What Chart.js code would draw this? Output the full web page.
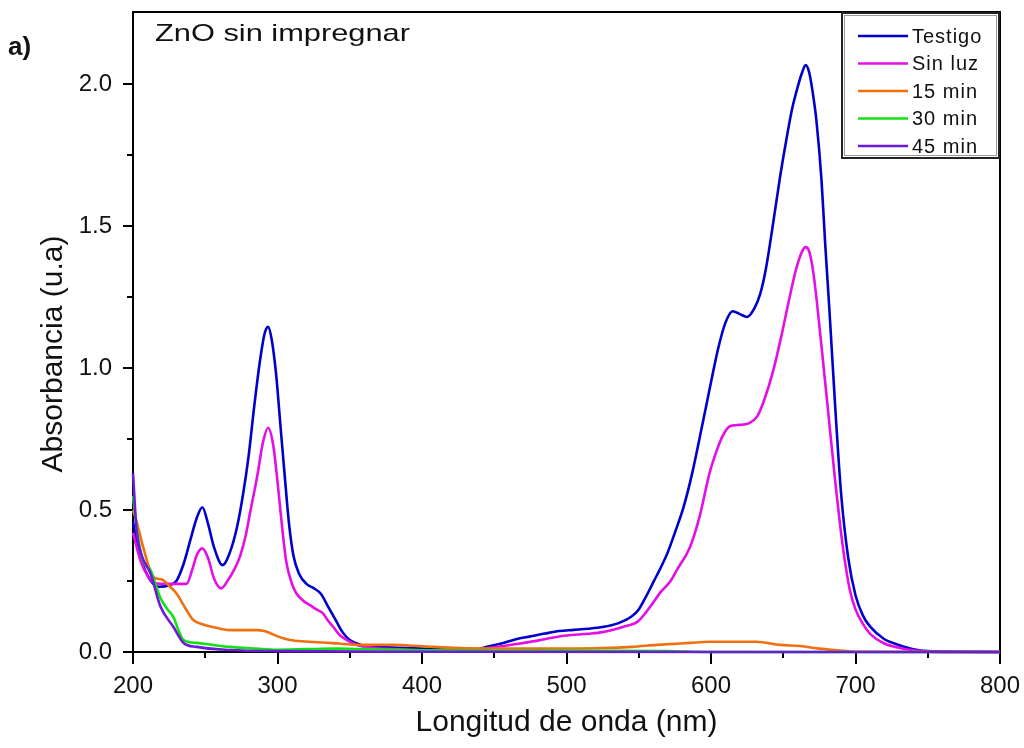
<!DOCTYPE html>
<html>
<head>
<meta charset="utf-8">
<script src="https://cdn.jsdelivr.net/npm/chart.js@4.4.1/dist/chart.umd.min.js"></script>
<style>
  html, body { margin: 0; padding: 0; background: #fff; }
  #wrap { width: 1024px; height: 748px; }
</style>
</head>
<body>
<div id="wrap"><canvas id="spectra" width="1024" height="748"></canvas></div>
<script>
// Spectra (wavelength in nm, absorbance in u.a)
const seriesNames = ["Testigo", "Sin luz", "15 min", "30 min", "45 min"];
const seriesColors = ["#0000cd", "#e60ee6", "#f07010", "#14e014", "#6a1ad8"];

const testigoNm = [200,203,206,210,214,218,225,230,235,240,244,248,252,256,262,267,272,276,280,284,288,291,293.5,296,299,302,305,308,311,315,320,325,330,335,340,345,350,355,360,370,385,400,420,435,445,455,465,475,485,495,505,515,525,535,545,550,555,560,565,570,575,581,587,594,600,605,610,615,620,625,630,634,638,643,648,652,656,660,663,665.5,668,671,673,676.5,679,682,686,690,695,700,705,710,720,730,740,750,770,800];
const testigoAbs = [0.46,0.38,0.32,0.27,0.24,0.23,0.235,0.25,0.31,0.40,0.47,0.51,0.45,0.37,0.306,0.35,0.44,0.55,0.69,0.87,1.03,1.12,1.145,1.10,0.98,0.80,0.62,0.45,0.34,0.275,0.24,0.225,0.205,0.16,0.115,0.07,0.042,0.03,0.022,0.018,0.015,0.012,0.008,0.008,0.018,0.03,0.045,0.055,0.065,0.074,0.078,0.082,0.088,0.10,0.125,0.15,0.195,0.245,0.295,0.35,0.42,0.51,0.63,0.80,0.95,1.07,1.16,1.20,1.19,1.18,1.21,1.26,1.35,1.51,1.68,1.80,1.91,1.99,2.04,2.067,2.04,1.95,1.87,1.66,1.44,1.2,0.86,0.56,0.33,0.2,0.13,0.09,0.045,0.025,0.01,0.003,0.001,0];

const sinLuzNm = [200,203,206,210,214,220,230,237,241,244,248,252,256,261,266,270,274,278,281,286,290,293.5,297,300,303,306,310,313,318,322.5,327,331.5,335,338.5,343,348,355,365,380,400,425,440,455,468,480,490,500,515,525,540,549,558,565,572,576.5,585.5,592,599,604,608,613,620,626,632,637,643,649,654,659,663,665.5,668,671,676,681,686,691,696,700,705,710,720,730,740,750,770,800];
const sinLuzAbs = [0.42,0.36,0.31,0.27,0.245,0.24,0.24,0.24,0.29,0.34,0.365,0.33,0.26,0.224,0.255,0.29,0.336,0.41,0.49,0.62,0.74,0.79,0.73,0.6,0.45,0.32,0.24,0.207,0.18,0.165,0.15,0.136,0.11,0.089,0.06,0.042,0.025,0.015,0.01,0.006,0.005,0.01,0.02,0.03,0.04,0.05,0.058,0.064,0.07,0.09,0.106,0.16,0.21,0.25,0.29,0.37,0.475,0.63,0.71,0.76,0.795,0.8,0.805,0.83,0.89,0.99,1.12,1.24,1.35,1.41,1.426,1.41,1.33,1.1,0.85,0.6,0.38,0.22,0.15,0.1,0.065,0.03,0.015,0.006,0.002,0,0];

const min15Nm = [200,203,207,214,220,225.6,230,237,241.6,248,255.5,267,285.6,290,294.8,300,308.7,320,336,359,380,400,426,480,525,545,562.6,585.5,599,631.5,647.8,661.6,675,690,700,800];
const min15Abs = [0.5,0.45,0.37,0.265,0.255,0.23,0.207,0.148,0.113,0.098,0.088,0.077,0.077,0.075,0.067,0.055,0.042,0.037,0.032,0.025,0.025,0.02,0.014,0.012,0.014,0.018,0.025,0.032,0.036,0.036,0.025,0.021,0.012,0.005,0.001,0];

const min30Nm = [200,203,207,212,219,224,228,232,235,244,255,267,285,300,320,340,360,400,450,500,570,600,800];
const min30Abs = [0.55,0.42,0.32,0.29,0.19,0.15,0.123,0.07,0.042,0.032,0.025,0.018,0.012,0.008,0.01,0.012,0.01,0.006,0.004,0.005,0.003,0,0];

const min45Nm = [200,202.5,206,212,219,228,235,244,267,300,400,800];
const min45Abs = [0.63,0.43,0.34,0.278,0.16,0.088,0.032,0.018,0.007,0.003,0.001,0];

const xTicks = [200, 300, 400, 500, 600, 700, 800];
const yTicks = [0.0, 0.5, 1.0, 1.5, 2.0];

const nmLists = [testigoNm, sinLuzNm, min15Nm, min30Nm, min45Nm];
const absLists = [testigoAbs, sinLuzAbs, min15Abs, min30Abs, min45Abs];

const datasets = seriesNames.map((name, i) => ({
  label: name,
  data: nmLists[i].map((nm, k) => ({ x: nm, y: absLists[i][k] })),
  borderColor: seriesColors[i],
  backgroundColor: seriesColors[i],
  borderWidth: 2.6,
  pointRadius: 0,
  cubicInterpolationMode: "monotone",
  clip: 4
})).reverse(); // Testigo drawn last, on top

const FONT = "'Liberation Sans', Arial, sans-serif";

// box, outward ticks (major + minor), titles and the little labels
const framePlugin = {
  id: "frame",
  beforeDatasetsDraw(chart) {
    const { ctx, chartArea: a, scales: { x, y } } = chart;
    ctx.save();
    ctx.strokeStyle = "#000";
    ctx.lineWidth = 2;
    ctx.strokeRect(a.left, a.top, a.right - a.left, a.bottom - a.top);
    ctx.beginPath();
    for (let v = 200; v <= 800; v += 50) {
      const px = Math.round(x.getPixelForValue(v));
      const len = v % 100 === 0 ? 12 : 6;
      ctx.moveTo(px, a.bottom);
      ctx.lineTo(px, a.bottom + len);
    }
    for (let v = 0; v <= 2.0001; v += 0.25) {
      const py = Math.round(y.getPixelForValue(v));
      const len = Math.abs(v * 2 - Math.round(v * 2)) < 1e-6 ? 10 : 6;
      ctx.moveTo(a.left, py);
      ctx.lineTo(a.left - len, py);
    }
    ctx.stroke();
    ctx.restore();
  },
  afterDraw(chart) {
    const { ctx, chartArea: a } = chart;
    ctx.save();
    ctx.fillStyle = "#111";
    // axis titles
    ctx.font = "30px " + FONT;
    ctx.textAlign = "center";
    ctx.textBaseline = "middle";
    ctx.fillText("Longitud de onda (nm)", (a.left + a.right) / 2, 723);
    ctx.save();
    ctx.translate(54, 354);
    ctx.rotate(-Math.PI / 2);
    ctx.fillText("Absorbancia (u.a)", 0, 0);
    ctx.restore();

    // panel label
    ctx.font = "bold 26px " + FONT;
    ctx.textAlign = "left";
    ctx.fillText("a)", 8, 48);

    // sample label, wide lettering as in the reference
    ctx.font = "24px " + FONT;
    const label = "ZnO sin impregnar";
    const w = ctx.measureText(label).width;
    ctx.save();
    ctx.translate(155, 34);
    ctx.scale(255 / w, 1);
    ctx.fillText(label, 0, 0);
    ctx.restore();

    // legend box in the top right corner
    const bx = 842, by = 13, bw = 157, bh = 145;
    ctx.fillStyle = "#fff";
    ctx.fillRect(bx, by, bw, bh);
    ctx.strokeStyle = "#999";
    ctx.lineWidth = 1;
    ctx.strokeRect(bx + 2.5, by + 2.5, bw - 5, bh - 5);
    ctx.strokeStyle = "#222";
    ctx.lineWidth = 2;
    ctx.strokeRect(bx, by, bw, bh);
    ctx.font = "20px " + FONT;
    ctx.letterSpacing = "1px";
    ctx.textAlign = "left";
    ctx.textBaseline = "middle";
    seriesNames.forEach((name, i) => {
      const ry = 36 + i * 27.5;
      ctx.strokeStyle = seriesColors[i];
      ctx.lineWidth = 2.6;
      ctx.beginPath();
      ctx.moveTo(858, ry);
      ctx.lineTo(908, ry);
      ctx.stroke();
      ctx.fillStyle = "#111";
      ctx.fillText(name, 912, ry + 1);
    });
    ctx.restore();
  }
};

new Chart(document.getElementById("spectra"), {
  type: "line",
  data: { datasets },
  options: {
    responsive: false,
    animation: false,
    layout: { padding: { left: 0, right: 24, top: 12, bottom: 0 } },
    plugins: { legend: { display: false }, tooltip: { enabled: false } },
    scales: {
      x: {
        type: "linear",
        min: 200,
        max: 800,
        afterFit: s => { s.height = 96; s.paddingLeft = 0; s.paddingRight = 0; },
        afterBuildTicks: s => { s.ticks = xTicks.map(v => ({ value: v })); },
        grid: { display: false, drawTicks: false },
        border: { display: false },
        ticks: {
          padding: 20,
          color: "#111",
          font: { family: FONT, size: 24 },
          maxRotation: 0,
          callback: v => String(v)
        }
      },
      y: {
        type: "linear",
        min: 0,
        max: 2.254,
        afterFit: s => { s.width = 133; s.paddingTop = 0; s.paddingBottom = 0; },
        afterBuildTicks: s => { s.ticks = yTicks.map(v => ({ value: v })); },
        grid: { display: false, drawTicks: false },
        border: { display: false },
        ticks: {
          padding: 21,
          color: "#111",
          font: { family: FONT, size: 24 },
          callback: v => v.toFixed(1)
        }
      }
    }
  },
  plugins: [framePlugin]
});
</script>
</body>
</html>
